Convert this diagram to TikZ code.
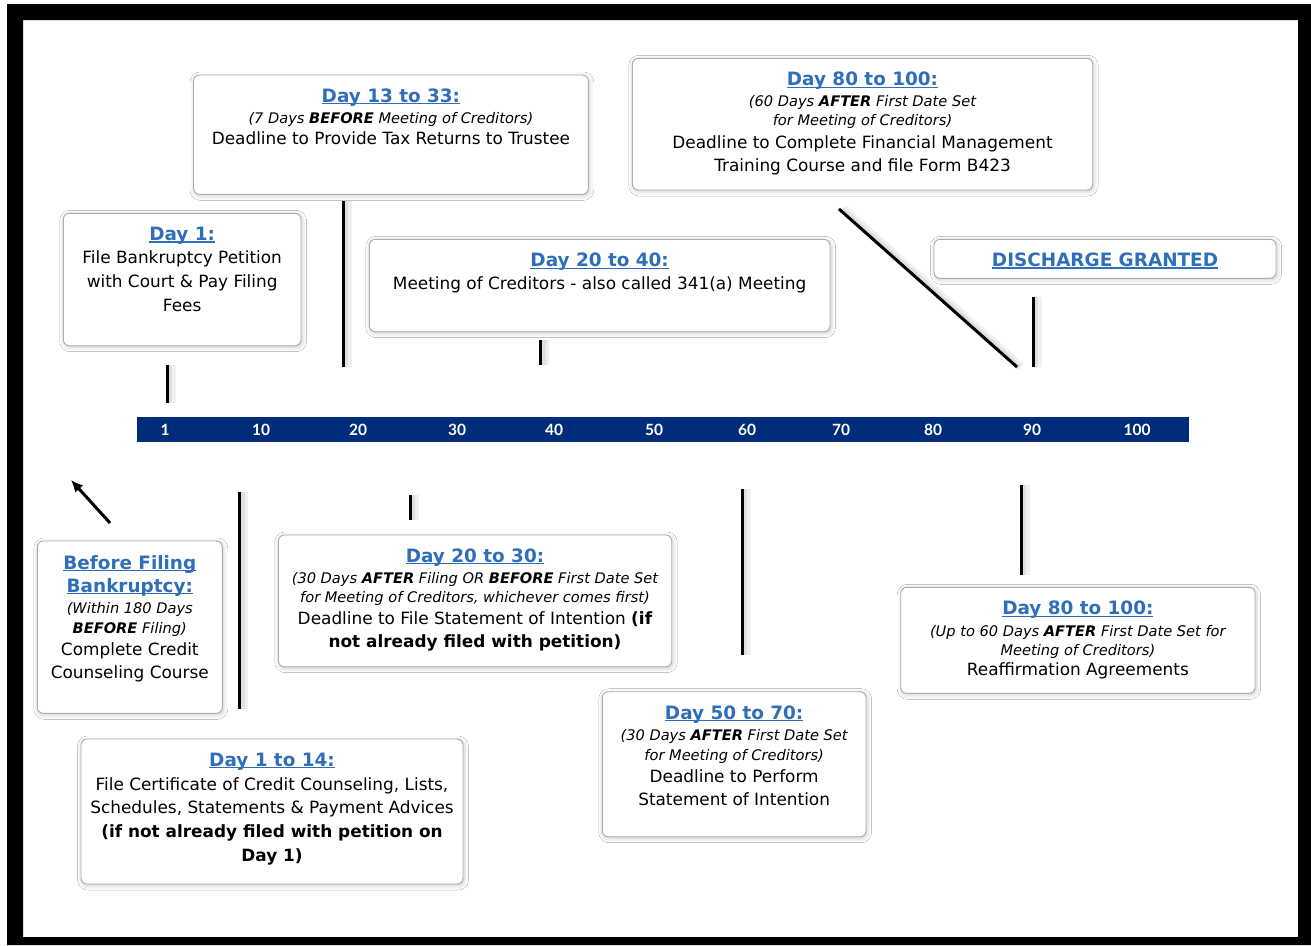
\documentclass[tikz,border=0pt]{standalone}
\usepackage{fontspec}
\setmainfont{DejaVu Sans}
\newfontfamily\axisfont{Lato}
\usetikzlibrary{shadows.blur,arrows.meta}
\definecolor{navy}{RGB}{0,45,122}
\definecolor{ttlblue}{RGB}{47,111,186}
\definecolor{boxline}{RGB}{172,172,172}
\newcommand\bodyf{\fontsize{16.9}{23}\selectfont}
\newcommand\itl[1]{{\fontsize{14.6}{19}\selectfont\itshape #1}}
\newsavebox\ttlbox
\newcommand\ttl[1]{{\fontsize{18.4}{23}\selectfont\bfseries\color{ttlblue}\sbox\ttlbox{#1}\usebox\ttlbox\llap{\rule[-2pt]{\wd\ttlbox}{1.2pt}}}}
\tikzset{
  card/.style={draw=boxline, line width=0.9pt, rounded corners=6pt, fill=white,
    anchor=north west, inner sep=0pt, outer sep=0pt,
    blur shadow={shadow xshift=1pt, shadow yshift=-1.5pt, shadow blur radius=4.5pt, shadow opacity=22}},
  cardtext/.style={anchor=north, align=center, inner sep=0pt, font=\bodyf, text=black},
  tickline/.style={line width=3pt, black},
  tickshade/.style={line width=9pt, black, opacity=0.06},
  tickshade2/.style={line width=5pt, black, opacity=0.07},
  axislabel/.style={text=white, font=\axisfont\bfseries\fontsize{15.5}{15.5}\selectfont, inner sep=0pt},
}
\begin{document}
\begin{tikzpicture}[x=1pt,y=-1pt]
\useasboundingbox (0,0) rectangle (1311,945);
\fill[white] (0,0) rectangle (1311,945);
\fill[black, even odd rule] (7,4) rectangle (1311,945) (23,20) rectangle (1298,937);

% timeline bar
\fill[navy] (137,417) rectangle (1189,442);
\foreach \n/\x in {1/165,10/261,20/358,30/457,40/554,50/654,60/747,70/841,80/933,90/1032,100/1137}
  \node[axislabel] (ax\n) at (\x,430) {\n};

% cards
\node[card, minimum width=394.8pt, minimum height=119.3pt] (bA) at (193.5,75) {};
\node[cardtext] (tA) at ([yshift=-13.6pt]bA.north) {\ttl{Day 13 to 33:}\\[-2pt]
  \itl{(7 Days \textbf{BEFORE} Meeting of Creditors)}\\[-1.5pt]
  Deadline to Provide Tax Returns to Trustee};

\node[card, minimum width=460.4pt, minimum height=131.7pt] (bB) at (632.3,58.3) {};
\node[cardtext] (tB) at ([yshift=-13.6pt]bB.north) {\ttl{Day 80 to 100:}\\[-2pt]
  \itl{(60 Days \textbf{AFTER} First Date Set}\\[-4pt]
  \itl{for Meeting of Creditors)}\\[-0.5pt]
  Deadline to Complete Financial Management\\
  Training Course and file Form B423};

\node[card, minimum width=237.7pt, minimum height=132.4pt] (bC) at (63.3,213.3) {};
\node[cardtext] (tC) at ([yshift=-13.6pt]bC.north) {\ttl{Day 1:}\\
  File Bankruptcy Petition\\[1pt]
  with Court \& Pay Filing\\[1pt]
  Fees};

\node[card, minimum width=460.7pt, minimum height=92.4pt] (bD) at (369.3,239.3) {};
\node[cardtext] (tD) at ([yshift=-13.6pt]bD.north) {\ttl{Day 20 to 40:}\\
  Meeting of Creditors - also called 341(a) Meeting};

\node[card, minimum width=342pt, minimum height=39pt] (bE) at (934,239.3) {};
\node[cardtext] (tE) at ([yshift=-13.4pt]bE.north) {\ttl{DISCHARGE GRANTED}};

\node[card, minimum width=185pt, minimum height=172.3pt] (bF) at (37.3,541) {};
\node[cardtext] (tF) at ([yshift=-14pt]bF.north) {\ttl{Before Filing}\\
  \ttl{Bankruptcy:}\\[-2pt]
  \itl{(Within 180 Days}\\[-3pt]
  \itl{\textbf{BEFORE} Filing)}\\[-1pt]
  Complete Credit\\
  Counseling Course};

\node[card, minimum width=393.4pt, minimum height=131.7pt] (bG) at (278.3,535) {};
\node[cardtext] (tG) at ([yshift=-13.6pt]bG.north) {\ttl{Day 20 to 30:}\\[-2pt]
  \itl{(30 Days \textbf{AFTER} Filing OR \textbf{BEFORE} First Date Set}\\[-4pt]
  \itl{for Meeting of Creditors, whichever comes first)}\\[-0.7pt]
  Deadline to File Statement of Intention \textbf{(if}\\
  \textbf{not already filed with petition)}};

\node[card, minimum width=382pt, minimum height=145pt] (bH) at (81,739) {};
\node[cardtext] (tH) at ([yshift=-13.6pt]bH.north) {\ttl{Day 1 to 14:}\\[1pt]
  File Certificate of Credit Counseling, Lists,\\
  Schedules, Statements \& Payment Advices\\[1pt]
  \textbf{(if not already filed with petition on}\\[1pt]
  \textbf{Day 1)}};

\node[card, minimum width=263.7pt, minimum height=145pt] (bI) at (602.3,691.7) {};
\node[cardtext] (tI) at ([yshift=-13.6pt]bI.north) {\ttl{Day 50 to 70:}\\[-1.5pt]
  \itl{(30 Days \textbf{AFTER} First Date Set}\\[-3.5pt]
  \itl{for Meeting of Creditors)}\\[-1pt]
  Deadline to Perform\\
  Statement of Intention};

\node[card, minimum width=354.3pt, minimum height=106pt] (bJ) at (900.7,587.3) {};
\node[cardtext] (tJ) at ([yshift=-13.6pt]bJ.north) {\ttl{Day 80 to 100:}\\[-1.5pt]
  \itl{(Up to 60 Days \textbf{AFTER} First Date Set for}\\[-4pt]
  \itl{Meeting of Creditors)}\\[-2.3pt]
  Reaffirmation Agreements};

% connector end points
\coordinate (c1t) at (167,365);    \coordinate (c1b) at (167,403);
\coordinate (c2t) at (343,201);    \coordinate (c2b) at (343,367);
\coordinate (c3t) at (540.5,340);  \coordinate (c3b) at (540.5,365);
\coordinate (c4t) at (839,209);    \coordinate (c4b) at (1017,367);
\coordinate (c5t) at (1033,297);   \coordinate (c5b) at (1033,367);
\coordinate (c6t) at (239.5,492);  \coordinate (c6b) at (239.5,709);
\coordinate (c7t) at (410,495);    \coordinate (c7b) at (410,520);
\coordinate (c8t) at (742,489);    \coordinate (c8b) at (742,655);
\coordinate (c9t) at (1021,485);   \coordinate (c9b) at (1021,575);
\coordinate (arrs) at (110,523);   \coordinate (arre) at (71,480);

\foreach \a/\b in {c1t/c1b,c2t/c2b,c3t/c3b,c4t/c4b,c5t/c5b,c6t/c6b,c7t/c7b,c8t/c8b,c9t/c9b}{
  \draw[tickshade] ([xshift=4pt]\a) -- ([xshift=4pt]\b);
  \draw[tickshade2] ([xshift=2.5pt]\a) -- ([xshift=2.5pt]\b);
  \draw[tickline] (\a) -- (\b);
}
\draw[tickline, -{Latex[length=12pt,width=11pt]}] (arrs) -- (arre);
\end{tikzpicture}
\end{document}
